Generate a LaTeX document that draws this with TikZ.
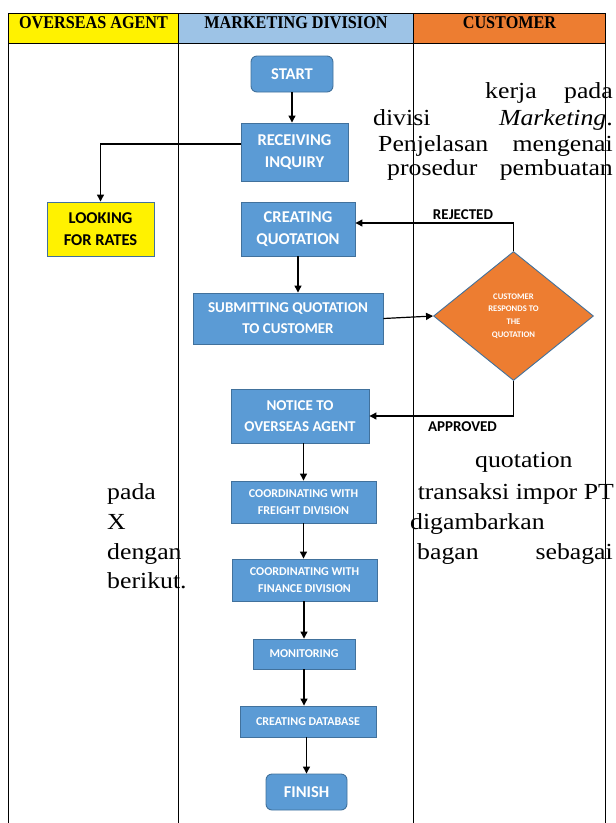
\documentclass[tikz,border=0pt]{standalone}
\usepackage{fontspec}
\setmainfont{Liberation Serif}
\newfontfamily\bgfont[FakeStretch=1.12]{Liberation Serif}
\newfontfamily\hdfont[FakeStretch=0.9]{Liberation Serif}
\newfontfamily\boxfont{Carlito}
\usetikzlibrary{arrows.meta,shapes.geometric}
\definecolor{boxblue}{HTML}{5B9BD5}
\definecolor{boxedge}{HTML}{41719C}
\definecolor{hdblue}{HTML}{9DC3E6}
\definecolor{hdorange}{HTML}{ED7D31}
\begin{document}
\begin{tikzpicture}[x=1pt,y=-1pt,
 proc/.style={draw=boxedge, line width=0.9pt, fill=boxblue, text=white, font=\boxfont\bfseries, align=center, inner sep=0pt},
 term/.style={proc, rounded corners=6pt},
 fbig/.style={font=\boxfont\bfseries\fontsize{16.5}{22.7}\selectfont},
 fmid/.style={font=\boxfont\bfseries\fontsize{15}{21}\selectfont},
 fsmall/.style={font=\boxfont\bfseries\fontsize{12}{17}\selectfont},
 ftiny/.style={font=\boxfont\bfseries\fontsize{8.6}{12.6}\selectfont},
 flow/.style={line width=1.2pt, -{Triangle[length=7pt,width=7pt]}},
 tline/.style={line width=0.8pt},
 bg/.style={font=\bgfont\fontsize{23}{28}\selectfont, inner sep=0pt},
 hd/.style={font=\hdfont\bfseries\fontsize{18}{20}\selectfont, inner sep=0pt, anchor=base},
 lbl/.style={font=\boxfont\bfseries\fontsize{15}{18}\selectfont, inner sep=0pt}
]
\useasboundingbox (0,0) rectangle (616,823);
% header fills
\fill[yellow] (8,13) rectangle (178.5,43);
\fill[hdblue] (178.5,13) rectangle (413,43);
\fill[hdorange] (413,13) rectangle (605,43);
% background text
\node[bg,anchor=base west] (w1) at (485,98) {kerja};
\node[bg,anchor=base east] (w2) at (613,98) {pada};
\node[bg,anchor=base west] (w3) at (373,125) {divisi};
\node[bg,anchor=base east] (w4) at (613,125) {\itshape Marketing\upshape.};
\node[bg,anchor=base west] (w5) at (378,151) {Penjelasan};
\node[bg,anchor=base east] (w6) at (613,151) {mengenai};
\node[bg,anchor=base west] (w7) at (387,175) {prosedur};
\node[bg,anchor=base east] (w8) at (613,175) {pembuatan};
\node[bg,anchor=base west] (w9) at (475,467) {quotation};
\node[bg,anchor=base west] (w10) at (107,499) {pada};
\node[bg,anchor=base east] (w11) at (614,499) {transaksi impor PT};
\node[bg,anchor=base west] (w12) at (107,529) {X};
\node[bg,anchor=base west] (w13) at (410,529) {digambarkan};
\node[bg,anchor=base west] (w14) at (107,559) {dengan};
\node[bg,anchor=base west] (w15) at (417,559) {bagan};
\node[bg,anchor=base east] (w16) at (613,559) {sebagai};
\node[bg,anchor=base west] (w17) at (107,588) {berikut.};
% table lines
\draw[tline] (8,823) -- (8,13) -- (605,13) -- (605,823);
\draw[tline] (178.5,13) -- (178.5,823);
\draw[tline] (413,13) -- (413,823);
\draw[tline] (8,43) -- (605,43);
% header text
\node[hd] (h1) at (93.5,28.3) {OVERSEAS AGENT};
\node[hd] (h2) at (296,28.3) {MARKETING DIVISION};
\node[hd] (h3) at (509.5,28.3) {CUSTOMER};
% boxes
\node[term,fbig,minimum width=82pt,minimum height=36pt] (start) at (292,74) {START};
\node[proc,fbig,minimum width=107pt,minimum height=58pt] (recv) at (294.5,152) {RECEIVING\\INQUIRY};
\node[proc,fbig,fill=yellow,text=black,minimum width=107pt,minimum height=54pt] (look) at (100.5,229) {LOOKING\\FOR RATES};
\node[proc,fbig,minimum width=114pt,minimum height=54pt] (creat) at (298,229) {CREATING\\QUOTATION};
\node[proc,fmid,minimum width=190pt,minimum height=51pt] (subm) at (288,318.5) {SUBMITTING QUOTATION\\TO CUSTOMER};
\node[proc,ftiny,fill=hdorange,shape=diamond,minimum width=160pt,minimum height=129pt] (dec) at (513.5,316) {CUSTOMER\\RESPONDS TO\\THE\\QUOTATION};
\node[proc,fmid,minimum width=138pt,minimum height=54pt] (notice) at (300,416) {NOTICE TO\\OVERSEAS AGENT};
\node[proc,fsmall,minimum width=145pt,minimum height=42pt] (freight) at (303.5,502) {COORDINATING WITH\\FREIGHT DIVISION};
\node[proc,fsmall,minimum width=145pt,minimum height=42pt] (finance) at (304.5,580) {COORDINATING WITH\\FINANCE DIVISION};
\node[proc,fsmall,minimum width=102pt,minimum height=30pt] (monit) at (304,654) {MONITORING};
\node[proc,fsmall,minimum width=136pt,minimum height=31pt] (cdb) at (308,721.5) {CREATING DATABASE};
\node[term,fbig,minimum width=81pt,minimum height=36pt] (finish) at (306.5,792) {FINISH};
% labels
\node[lbl] (rej) at (463,215) {REJECTED};
\node[lbl] (app) at (462.5,427) {APPROVED};
% connectors
\draw[flow] (start.south) -- (start.south |- recv.north);
\draw[flow] ([yshift=8pt]recv.west) -| (look.north);
\draw[flow] (creat.south) -- (creat.south |- subm.north);
\draw[flow] (subm.east) -- (dec.west);
\draw[flow] (dec.north) |- ([yshift=6pt]creat.east);
\draw[flow] (dec.south) |- (notice.east);
\draw[flow] (notice.south -| freight.north) -- (freight.north);
\draw[flow] (freight.south) -- (freight.south |- finance.north);
\draw[flow] (finance.south -| monit.north) -- (monit.north);
\draw[flow] (monit.south) -- (monit.south |- cdb.north);
\draw[flow] (cdb.south -| finish.north) -- (finish.north);
\end{tikzpicture}
\end{document}
